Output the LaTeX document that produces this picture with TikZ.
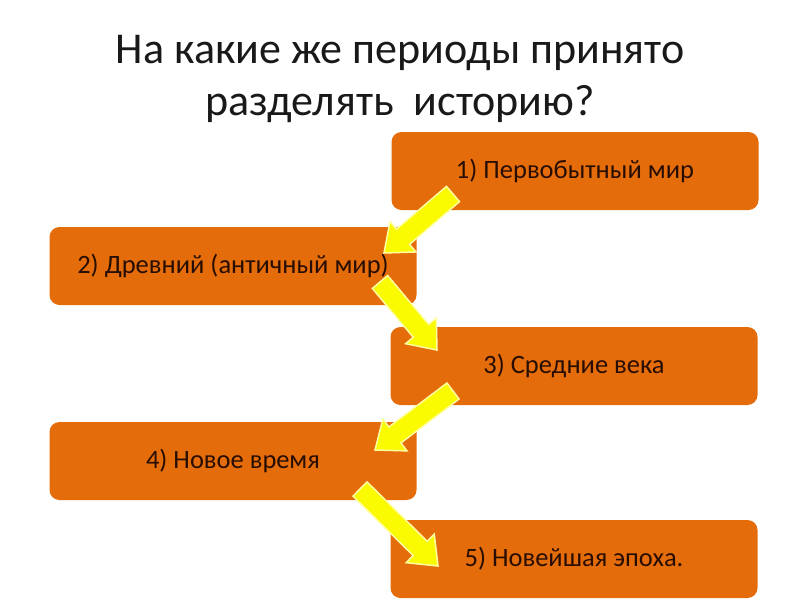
\documentclass[tikz,border=0pt]{standalone}
\usepackage{fontspec}
\setmainfont{Carlito}
\usetikzlibrary{calc}
\definecolor{boxorange}{RGB}{228,108,10}
\definecolor{boxtext}{RGB}{40,14,2}
\definecolor{arrowyellow}{RGB}{250,250,0}
\definecolor{arrowedge}{RGB}{255,255,160}
\newcommand\yelarrow[3]{%
  \coordinate (#3h) at ($(#2)!25pt!(#1)$);
  \fill[arrowyellow, draw=arrowedge, line width=1.5pt, line join=miter]
    ($(#1)!10pt!90:(#2)$) -- ($(#3h)!10pt!90:(#2)$) -- ($(#3h)!20pt!90:(#2)$)
    -- (#2) -- ($(#3h)!20pt!-90:(#2)$) -- ($(#3h)!10pt!-90:(#2)$)
    -- ($(#1)!10pt!-90:(#2)$) -- cycle;}
\begin{document}
\begin{tikzpicture}[x=1pt,y=-1pt,
  period/.style={fill=boxorange, rounded corners=10pt, minimum width=367pt,
    minimum height=78pt, inner sep=0pt, text=boxtext,
    font=\fontsize{26.5}{31}\selectfont},
  title/.style={align=center, text=black!90, font=\fontsize{44}{52}\selectfont}]
\useasboundingbox (0,0) rectangle (800,600);
\fill[white] (0,0) rectangle (800,600);
\node[title, anchor=base] (t1) at (400,63) {На какие же периоды принято};
\node[title, anchor=base] (t2) at (400,115) {разделять~ историю?};
\node[period] (p1) at (575,171) {1) Первобытный мир};
\node[period] (p2) at (233,266) {2) Древний (античный мир)};
\node[period] (p3) at (574,366) {3) Средние века};
\node[period] (p4) at (233,461) {4) Новое время};
\node[period] (p5) at (574,559) {5) Новейшая эпоха.};
\coordinate (s1) at (453,194); \coordinate (e1) at (384,253);
\coordinate (s2) at (380,282); \coordinate (e2) at (437,350);
\coordinate (s3) at (453,391); \coordinate (e3) at (375,450);
\coordinate (s4) at (360,489); \coordinate (e4) at (438,566);
\yelarrow{s1}{e1}{a1}
\yelarrow{s2}{e2}{a2}
\yelarrow{s3}{e3}{a3}
\yelarrow{s4}{e4}{a4}
\end{tikzpicture}
\end{document}
